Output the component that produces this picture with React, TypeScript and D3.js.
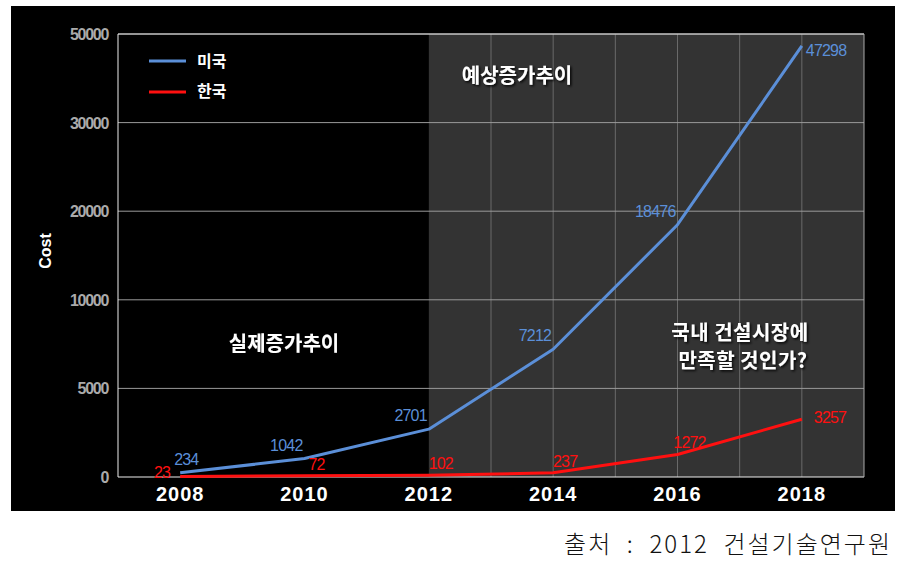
import React from "react";
import * as d3 from "d3";

// data
const years = [2008, 2010, 2012, 2014, 2016, 2018];
const usa = [234, 1042, 2701, 7212, 18476, 47298];
const korea = [23, 72, 102, 237, 1272, 3257];
const yTicks = [0, 5000, 10000, 20000, 30000, 50000];
const xTicks = [2008, 2010, 2012, 2014, 2016, 2018];
const gridYears = [2013, 2014, 2015, 2016, 2017, 2018];

const W = 913;
const H = 570;
const plot = { left: 118, right: 864, top: 34, bottom: 477 };

const BLUE = "#5b8fd8";
const RED = "#ff1010";
const KR = "'Noto Sans CJK KR', sans-serif";
const LAT = "'Liberation Sans', Arial, sans-serif";

export default function App() {
  const x = d3.scaleLinear().domain([2007, 2019]).range([plot.left, plot.right]);
  // the original axis is stepped, not linear: each tick gets an equal band
  const y = d3
    .scaleLinear()
    .domain(yTicks)
    .range(yTicks.map((_, i) => plot.bottom - (i * (plot.bottom - plot.top)) / (yTicks.length - 1)));

  const line = d3
    .line<number>()
    .x((_, i) => x(years[i]))
    .y((d) => y(d));

  const shadeX = x(2012);

  return (
    <div style={{ position: "absolute", left: 0, top: 0 }}>
      <svg width={W} height={H} style={{ display: "block", background: "#fff" }}>
        <defs>
          <filter id="sh" x="-10%" y="-30%" width="120%" height="160%">
            <feDropShadow dx="1.5" dy="1.5" stdDeviation="1.2" floodColor="#000" floodOpacity="0.9" />
          </filter>
        </defs>
        <rect x={11} y={6} width={884} height={505} fill="#000" />
        <rect x={shadeX} y={plot.top} width={plot.right - shadeX} height={plot.bottom - plot.top} fill="#333" />

        {/* vertical grid in the forecast zone */}
        {gridYears.map((g) => (
          <line key={g} x1={x(g)} x2={x(g)} y1={plot.top} y2={plot.bottom} stroke="#6a6a6a" strokeWidth={1} />
        ))}
        {/* horizontal grid */}
        {yTicks.slice(1).map((t) => (
          <line key={t} x1={plot.left} x2={plot.right} y1={y(t)} y2={y(t)} stroke="#9a9a9a" strokeWidth={1} />
        ))}
        <line x1={plot.left} x2={plot.right} y1={plot.top} y2={plot.top} stroke="#ddd" />
        <line x1={plot.left} x2={plot.right} y1={plot.bottom} y2={plot.bottom} stroke="#eee" />
        <line x1={plot.left} x2={plot.left} y1={plot.top} y2={plot.bottom} stroke="#eee" />
        <line x1={plot.right} x2={plot.right} y1={plot.top} y2={plot.bottom} stroke="#aaa" />

        {/* y ticks */}
        {yTicks.map((t) => (
          <text key={t} x={108} y={y(t) + 6} textAnchor="end" fill="#aaa" fontFamily={LAT} fontWeight="bold" fontSize={16} letterSpacing={-1.3}>
            {t}
          </text>
        ))}
        <text transform="translate(51,251) rotate(-90)" textAnchor="middle" fill="#fff" fontFamily={LAT} fontWeight="bold" fontSize={16}>
          Cost
        </text>

        {/* x ticks */}
        {xTicks.map((t) => (
          <text key={t} x={x(t)} y={501} textAnchor="middle" fill="#fff" fontFamily={LAT} fontWeight="bold" fontSize={20} letterSpacing={1}>
            {t}
          </text>
        ))}

        {/* series */}
        <path d={line(usa) ?? ""} fill="none" stroke={BLUE} strokeWidth={3} strokeLinejoin="round" />
        <path d={line(korea) ?? ""} fill="none" stroke={RED} strokeWidth={3} strokeLinejoin="round" />

        {/* value labels */}
        {usa.map((v, i) => {
          const last = i === usa.length - 1;
          const px = x(years[i]);
          const py = y(v);
          const lx = i === 0 ? px - 6 : last ? px + 4 : px - 2;
          const ly = i === 0 ? py - 8 : last ? py + 10 : py - 8;
          return (
            <text key={i} x={lx} y={ly} textAnchor={last || i === 0 ? "start" : "end"} fill={BLUE} fontFamily={LAT} fontSize={16} letterSpacing={-0.8}>
              {v}
            </text>
          );
        })}
        {korea.map((v, i) => {
          const last = i === korea.length - 1;
          const px = x(years[i]);
          const py = y(v);
          const lx = i === 0 ? px - 10 : last ? px + 12 : px + 12;
          const ly = last ? py + 4 : i === 0 ? py + 1 : py - 6;
          return (
            <text key={i} x={lx} y={ly} textAnchor={i === 0 ? "end" : last ? "start" : "middle"} fill={RED} fontFamily={LAT} fontSize={16} letterSpacing={-0.8}>
              {v}
            </text>
          );
        })}

        {/* legend */}
        <line x1={149} x2={186} y1={61} y2={61} stroke={BLUE} strokeWidth={3} />
        <text x={197} y={67} fill="#fff" fontFamily={KR} fontWeight="bold" fontSize={16}>미국</text>
        <line x1={149} x2={186} y1={92} y2={92} stroke={RED} strokeWidth={3} />
        <text x={197} y={97} fill="#fff" fontFamily={KR} fontWeight="bold" fontSize={16}>한국</text>

        {/* annotations */}
        <g filter="url(#sh)" fill="#fff" fontFamily={KR} fontWeight="bold" fontSize={20}>
          <text x={517} y={83} textAnchor="middle">예상증가추이</text>
          <text x={284} y={351} textAnchor="middle">실제증가추이</text>
          <text x={740} y={340} textAnchor="middle" letterSpacing={0.5}>국내 건설시장에</text>
          <text x={743} y={368} textAnchor="middle" letterSpacing={0.5}>만족할 것인가?</text>
        </g>

        {/* source */}
        <text x={892} y={553} textAnchor="end" fill="#111" fontFamily={KR} fontWeight={300} fontSize={24} letterSpacing={2} style={{ whiteSpace: "pre" }}>
          {"출처  :  2012  건설기술연구원"}
        </text>
      </svg>
    </div>
  );
}
